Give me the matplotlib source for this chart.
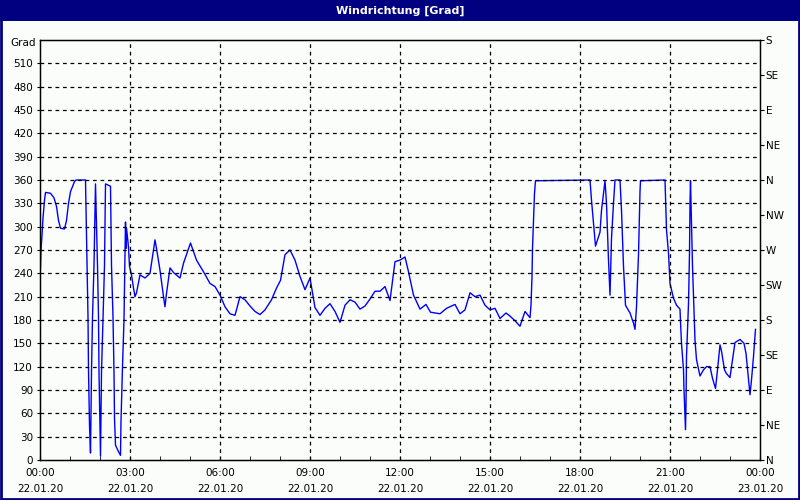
import matplotlib.pyplot as plt
from matplotlib.patches import Rectangle

# minutes since 22.01.20 00:00
minutes = [1, 2, 4, 6, 9, 11, 21, 28, 33, 37, 41, 49, 53, 57, 61, 69, 72, 91,
           92, 94, 96, 97, 99, 101, 103, 105, 108, 111, 115, 117, 118, 121,
           123, 126, 129, 131, 141, 143, 146, 148, 149, 151, 156, 161, 162,
           165, 168, 171, 172, 173, 177, 179, 183, 187, 190, 193, 200, 210,
           220, 230, 233, 240, 247, 250, 253, 260, 267, 280, 287, 301, 313,
           327, 340, 350, 360, 370, 380, 390, 400, 410, 420, 430, 440, 450,
           463, 473, 481, 490, 500, 510, 520, 530, 540, 550, 560, 570, 580,
           590, 600, 610, 620, 630, 640, 650, 660, 670, 680, 690, 700, 710,
           720, 730, 737, 747, 760, 772, 781, 800, 813, 830, 840, 850, 860,
           870, 880, 890, 900, 910, 920, 932, 940, 950, 960, 970, 980, 982,
           984, 985, 987, 989, 991, 1100, 1103, 1107, 1111, 1120, 1123, 1127,
           1130, 1133, 1137, 1140, 1143, 1147, 1150, 1160, 1163, 1167, 1171,
           1180, 1187, 1190, 1193, 1197, 1200, 1201, 1250, 1253, 1257, 1260,
           1267, 1273, 1280, 1281, 1283, 1287, 1288, 1290, 1291, 1292, 1293,
           1297, 1299, 1300, 1301, 1302, 1305, 1308, 1310, 1313, 1320, 1327,
           1333, 1340, 1345, 1351, 1355, 1360, 1363, 1369, 1373, 1380, 1383,
           1390, 1400, 1408, 1412, 1417, 1420, 1423, 1427, 1431]
grad = [247, 270, 289, 311, 334, 344, 343, 337, 326, 308, 298, 297, 308, 330,
        345, 358, 360, 360, 324, 253, 184, 116, 45, 9, 113, 184, 250, 355,
        250, 184, 113, 5, 113, 184, 250, 355, 352, 250, 184, 113, 54, 19, 12,
        6, 50, 120, 180, 306, 272, 298, 274, 249, 238, 221, 210, 215, 238,
        234, 240, 283, 272, 244, 210, 197, 214, 247, 241, 234, 253, 279, 257,
        242, 227, 223, 212, 197, 188, 186, 210, 206, 198, 191, 187, 193, 206,
        221, 231, 264, 270, 257, 236, 219, 234, 196, 186, 195, 201, 191, 177,
        199, 206, 203, 194, 198, 207, 217, 217, 223, 205, 255, 257, 261, 242,
        212, 194, 200, 190, 188, 195, 200, 188, 193, 215, 210, 212, 199, 193,
        195, 182, 189, 185, 179, 172, 191, 183, 199, 236, 272, 306, 343, 359,
        360, 334, 304, 275, 293, 321, 343, 359, 330, 257, 212, 285, 330, 360,
        360, 321, 249, 199, 189, 176, 168, 197, 264, 345, 359, 360, 296, 266,
        227, 208, 199, 194, 178, 150, 116, 90, 56, 39, 71, 133, 201, 266, 330,
        359, 330, 249, 193, 154, 129, 108, 116, 120, 120, 105, 92, 116, 148,
        140, 116, 111, 106, 120, 151, 155, 150, 137, 103, 84, 103, 133, 168]

x_ticks = [0, 180, 360, 540, 720, 900, 1080, 1260, 1440]
x_labels = ['00:00\n22.01.20', '03:00\n22.01.20', '06:00\n22.01.20',
            '09:00\n22.01.20', '12:00\n22.01.20', '15:00\n22.01.20',
            '18:00\n22.01.20', '21:00\n22.01.20', '00:00\n23.01.20']
left_ticks = list(range(0, 540, 30))
right_ticks = list(range(0, 541, 45))
right_labels = ['N', 'NE', 'E', 'SE', 'S', 'SW', 'W', 'NW', 'N', 'NE', 'E', 'SE', 'S']

navy = '#000080'
bg = '#fbfdfb'
fs = 7.5

fig = plt.figure(figsize=(8, 5), dpi=100, facecolor=bg)

# title bar and frame
fig.patches.append(Rectangle((0, 0.958), 1, 0.042, transform=fig.transFigure,
                             facecolor=navy, edgecolor='none', zorder=0))
fig.patches.append(Rectangle((0.001, 0.002), 0.998, 0.997, transform=fig.transFigure,
                             facecolor='none', edgecolor=navy, lw=2, zorder=5))
fig.text(0.5, 0.979, 'Windrichtung [Grad]', color='white', fontsize=8,
         fontweight='bold', ha='center', va='center')

ax = fig.add_axes([0.05, 0.08, 0.90, 0.84])
ax.set_facecolor(bg)
ax.plot(minutes, grad, color='#0000ff', lw=1)

ax.set_xlim(0, 1440)
ax.set_ylim(0, 540)
ax.set_xticks(x_ticks)
ax.set_xticklabels(x_labels, fontsize=fs, linespacing=1.75)
ax.set_xticks(range(0, 1441, 60), minor=True)
ax.set_yticks(left_ticks)
ax.set_yticklabels([str(v) for v in left_ticks], fontsize=fs)
ax.tick_params(axis='x', which='both', direction='in', length=3, pad=6)
ax.tick_params(axis='y', direction='out', length=2, pad=3)

for t in x_ticks[1:-1]:
    ax.axvline(t, color='black', lw=0.9, ls=(0, (3, 3)))
for v in left_ticks[1:]:
    ax.axhline(v, color='black', lw=0.9, ls=(0, (3, 3)))

for s in ax.spines.values():
    s.set_linewidth(1)

ax2 = ax.twinx()
ax2.set_ylim(0, 540)
ax2.set_yticks(right_ticks)
ax2.set_yticklabels(right_labels, fontsize=fs)
ax2.tick_params(axis='y', direction='out', length=3, pad=1)

fig.text(0.045, 0.914, 'Grad', fontsize=fs, ha='right', va='center')

fig.savefig('out.png', dpi=100, facecolor=bg)
